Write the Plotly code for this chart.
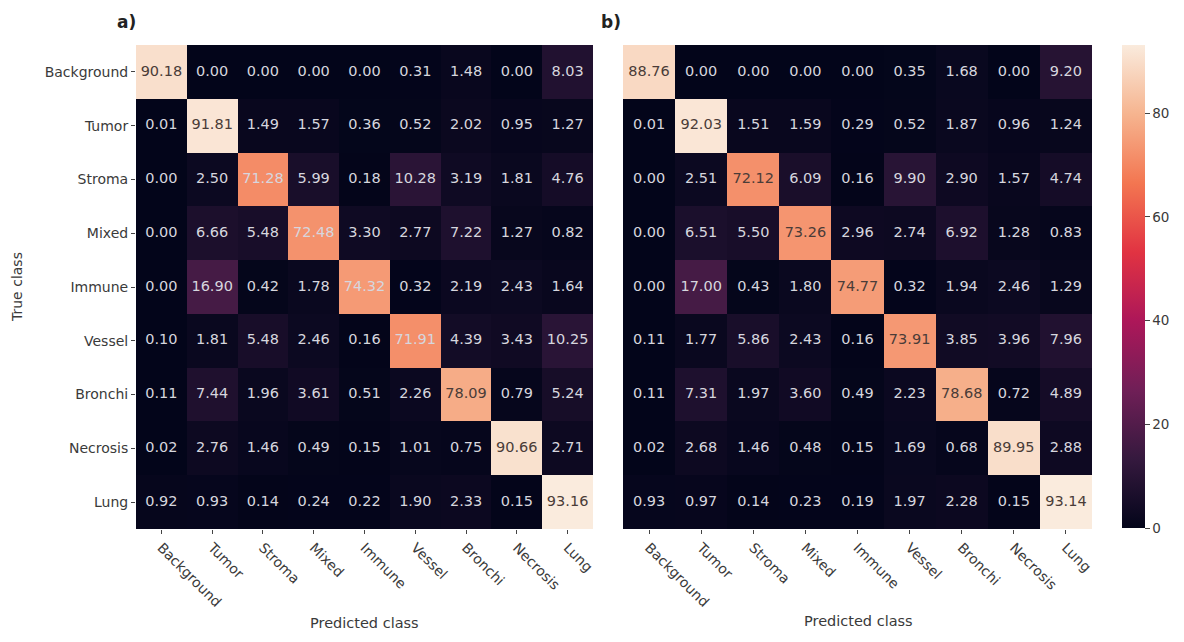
import plotly.graph_objects as go

classes = ["Background", "Tumor", "Stroma", "Mixed", "Immune", "Vessel", "Bronchi", "Necrosis", "Lung"]

cm_a = [
    [90.18, 0.00, 0.00, 0.00, 0.00, 0.31, 1.48, 0.00, 8.03],
    [0.01, 91.81, 1.49, 1.57, 0.36, 0.52, 2.02, 0.95, 1.27],
    [0.00, 2.50, 71.28, 5.99, 0.18, 10.28, 3.19, 1.81, 4.76],
    [0.00, 6.66, 5.48, 72.48, 3.30, 2.77, 7.22, 1.27, 0.82],
    [0.00, 16.90, 0.42, 1.78, 74.32, 0.32, 2.19, 2.43, 1.64],
    [0.10, 1.81, 5.48, 2.46, 0.16, 71.91, 4.39, 3.43, 10.25],
    [0.11, 7.44, 1.96, 3.61, 0.51, 2.26, 78.09, 0.79, 5.24],
    [0.02, 2.76, 1.46, 0.49, 0.15, 1.01, 0.75, 90.66, 2.71],
    [0.92, 0.93, 0.14, 0.24, 0.22, 1.90, 2.33, 0.15, 93.16],
]

cm_b = [
    [88.76, 0.00, 0.00, 0.00, 0.00, 0.35, 1.68, 0.00, 9.20],
    [0.01, 92.03, 1.51, 1.59, 0.29, 0.52, 1.87, 0.96, 1.24],
    [0.00, 2.51, 72.12, 6.09, 0.16, 9.90, 2.90, 1.57, 4.74],
    [0.00, 6.51, 5.50, 73.26, 2.96, 2.74, 6.92, 1.28, 0.83],
    [0.00, 17.00, 0.43, 1.80, 74.77, 0.32, 1.94, 2.46, 1.29],
    [0.11, 1.77, 5.86, 2.43, 0.16, 73.91, 3.85, 3.96, 7.96],
    [0.11, 7.31, 1.97, 3.60, 0.49, 2.23, 78.68, 0.72, 4.89],
    [0.02, 2.68, 1.46, 0.48, 0.15, 1.69, 0.68, 89.95, 2.88],
    [0.93, 0.97, 0.14, 0.23, 0.19, 1.97, 2.28, 0.15, 93.14],
]

colorbar_ticks = [0, 20, 40, 60, 80]

rocket = [
    [0.0, "#03051a"], [0.143, "#35193e"], [0.286, "#701f57"], [0.429, "#ad1759"],
    [0.571, "#e13342"], [0.714, "#f37651"], [0.857, "#f6b48f"], [1.0, "#faebdd"],
]

# page body has an 8px margin; figure sized so the page is 1184x642 overall
OFF = 8
W, H = 1184 - 2 * OFF, 642 - 2 * OFF
FONT = "DejaVu Sans"
TXT = "#3a3a3a"


def px_x(p):
    return (p - OFF) / W


def px_y(p):
    return 1 - (p - OFF) / H


zmax = max(max(r) for r in cm_a + cm_b)

fig = go.Figure()

panels = [
    (cm_a, "x", "y", 75.0),
    (cm_b, "x2", "y2", 72.0),
]

for cm, xa, ya, thr in panels:
    fig.add_trace(go.Heatmap(
        x=classes, y=classes, z=cm, coloraxis="coloraxis",
        xaxis=xa, yaxis=ya, hoverinfo="skip", xgap=0, ygap=0,
    ))
    xs, ys, ts, cs = [], [], [], []
    for i, row in enumerate(cm):
        for j, v in enumerate(row):
            xs.append(classes[j])
            ys.append(classes[i])
            ts.append(f"{v:.2f}")
            cs.append("#4a3c38" if v >= thr else "#d6d6de")
    fig.add_trace(go.Scatter(
        x=xs, y=ys, text=ts, mode="text", xaxis=xa, yaxis=ya,
        textfont=dict(family=FONT, size=14.5, color=cs),
        hoverinfo="skip", showlegend=False,
    ))

ydom = [px_y(529), px_y(45)]
axis_common = dict(
    type="category", categoryorder="array", categoryarray=classes,
    showgrid=False, zeroline=False, showline=False,
    tickwidth=1, tickcolor="#444", ticklen=4,
    tickfont=dict(family=FONT, size=14, color=TXT),
)


def label(text, x, y, size, angle=0, bold=False, color=TXT):
    return dict(
        text=f"<b>{text}</b>" if bold else text,
        x=px_x(x), y=px_y(y), xref="paper", yref="paper",
        xanchor="center", yanchor="middle", showarrow=False, textangle=angle,
        font=dict(family=FONT, size=size, color=color),
    )


fig.update_layout(
    width=W, height=H,
    margin=dict(l=0, r=0, t=0, b=0, autoexpand=False),
    paper_bgcolor="white", plot_bgcolor="white",
    showlegend=False,
    xaxis=dict(domain=[px_x(136), px_x(593)], anchor="y", tickangle=45, ticks="outside", **axis_common),
    yaxis=dict(domain=ydom, anchor="x", autorange="reversed", ticks="outside", **axis_common),
    xaxis2=dict(domain=[px_x(623), px_x(1092)], anchor="y2", tickangle=45, ticks="outside", **axis_common),
    yaxis2=dict(domain=ydom, anchor="x2", autorange="reversed", showticklabels=False, ticks="", **axis_common),
    coloraxis=dict(
        colorscale=rocket, cmin=0, cmax=zmax,
        colorbar=dict(
            x=px_x(1122), xanchor="left", xref="paper", xpad=0, ypad=0,
            y=px_y(45), yanchor="top", len=(528 - 45) / H, lenmode="fraction",
            thickness=23, thicknessmode="pixels", outlinewidth=0,
            ticks="outside", ticklen=5, tickcolor="#444",
            tickvals=colorbar_ticks, ticktext=[str(t) for t in colorbar_ticks],
            tickfont=dict(family=FONT, size=13.5, color=TXT),
        ),
    ),
    annotations=[
        label("a)", 126, 22, 17, bold=True, color="#222"),
        label("b)", 611, 22, 17, bold=True, color="#222"),
        label("True class", 17, 287, 14, angle=-90),
        label("Predicted class", 365, 623, 14.5),
        label("Predicted class", 858, 621, 14.5),
    ],
)

fig.write_html("out.html")
